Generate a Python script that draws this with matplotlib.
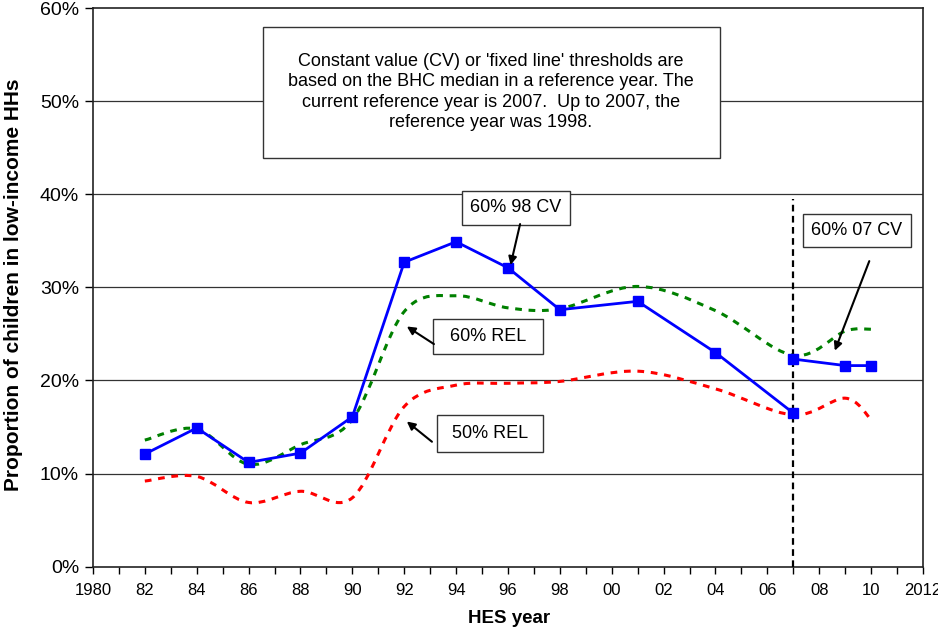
import matplotlib
matplotlib.use("Agg")
import matplotlib.pyplot as plt
from matplotlib.path import Path
from matplotlib.patches import PathPatch, Rectangle
from matplotlib.ticker import FuncFormatter

plt.rcParams['font.family'] = ['Liberation Sans', 'DejaVu Sans']

# data (percent of children)
years = [1982, 1984, 1986, 1988, 1990, 1992, 1994, 1996, 1998, 2001, 2004, 2007, 2009, 2010]
rel60 = [13.6, 14.8, 11.0, 13.1, 15.8, 27.4, 29.1, 27.8, 27.7, 30.1, 27.5, 22.7, 25.3, 25.5]
rel50 = [9.2, 9.7, 6.9, 8.1, 7.4, 17.2, 19.5, 19.7, 19.9, 21.0, 19.1, 16.3, 18.1, 15.8]
cv98_years = [1982, 1984, 1986, 1988, 1990, 1992, 1994, 1996, 1998, 2001, 2004, 2007]
cv98 = [12.1, 14.9, 11.2, 12.2, 16.1, 32.7, 34.9, 32.1, 27.6, 28.5, 23.0, 16.5]
cv07_years = [2007, 2009, 2010]
cv07 = [22.3, 21.6, 21.6]
ref_year = 2007
ref_line_top = 39.5

xticks = list(range(1980, 2013))
xlabels = ['1980', '82', '84', '86', '88', '90', '92', '94', '96', '98',
           '00', '02', '04', '06', '08', '10', '2012']


def smooth_path(xs, ys):
    # excel-style smoothed line: cubic bezier through each point
    pts = list(zip(xs, ys))
    verts = [pts[0]]
    codes = [Path.MOVETO]
    n = len(pts)
    for i in range(n - 1):
        p0 = pts[i - 1] if i > 0 else pts[i]
        p1 = pts[i]
        p2 = pts[i + 1]
        p3 = pts[i + 2] if i + 2 < n else pts[i + 1]
        c1 = (p1[0] + (p2[0] - p0[0]) / 6, p1[1] + (p2[1] - p0[1]) / 6)
        c2 = (p2[0] - (p3[0] - p1[0]) / 6, p2[1] - (p3[1] - p1[1]) / 6)
        verts += [c1, c2, p2]
        codes += [Path.CURVE4] * 3
    return Path(verts, codes)


fig = plt.figure(figsize=(9.38, 6.32), dpi=100)
ax = fig.add_axes([0.0991, 0.1033, 0.8849, 0.884])

for v in range(10, 60, 10):
    ax.axhline(v, color='#333333', lw=0.9, zorder=1)

ax.add_patch(PathPatch(smooth_path(years, rel60), fill=False, edgecolor='#008000',
                       lw=2.2, linestyle=(0, (2.2, 2.2)), zorder=3))
ax.add_patch(PathPatch(smooth_path(years, rel50), fill=False, edgecolor='#ff0000',
                       lw=2.2, linestyle=(0, (2.2, 2.2)), zorder=3))

ax.plot([ref_year, ref_year], [0, ref_line_top], color='black', lw=1.6,
        linestyle=(0, (3, 2)), zorder=4)

ax.plot(cv98_years, cv98, color='#0000ff', lw=2, marker='s', ms=7.5, zorder=5)
ax.plot(cv07_years, cv07, color='#0000ff', lw=2, marker='s', ms=7.5, zorder=5)

ax.set_xlim(1980, 2012)
ax.set_ylim(0, 60)
ax.set_yticks(range(0, 61, 10))
ax.yaxis.set_major_formatter(FuncFormatter(lambda v, p: '%d%%' % v))
ax.set_xticks(xticks)
ax.set_xticklabels([xlabels[(y - 1980) // 2] if y % 2 == 0 else '' for y in xticks])
ax.tick_params(axis='x', direction='out', length=5, width=1, labelsize=12, pad=7)
ax.tick_params(axis='y', direction='out', length=6, width=1, labelsize=14, pad=4)
for s in ax.spines.values():
    s.set_linewidth(1.2)
    s.set_color('#222222')

ax.set_xlabel('HES year', fontsize=13.5, fontweight='bold')
ax.xaxis.set_label_coords(0.501, -0.078)
ax.set_ylabel('Proportion of children in low-income HHs', fontsize=15, fontweight='bold')
ax.yaxis.set_label_coords(-0.084, 0.504)

# note box
ax.add_patch(Rectangle((0.2048, 0.7315), 0.5506, 0.2345, transform=ax.transAxes,
                       facecolor='white', edgecolor='#333333', lw=1, zorder=6))
ax.text(0.4795, 0.8497,
        "Constant value (CV) or 'fixed line' thresholds are\n"
        "based on the BHC median in a reference year. The\n"
        "current reference year is 2007.  Up to 2007, the\n"
        "reference year was 1998.",
        transform=ax.transAxes, ha='center', va='center', fontsize=13,
        linespacing=1.25, zorder=7)

labels = [
    ('60% 98 CV', (0.4446, 0.6118), 0.1301, 0.0609, (0.5146, 0.6133), (1996.1, 32.4)),
    ('60% REL', (0.4096, 0.3806), 0.1325, 0.0626, (0.4108, 0.3985), (1992.1, 25.8)),
    ('50% REL', (0.4145, 0.2058), 0.1277, 0.0662, (0.4084, 0.2237), (1992.1, 15.6)),
    ('60% 07 CV', (0.8558, 0.5719), 0.1294, 0.0597, (0.9353, 0.5470), (2008.6, 23.2)),
]
for txt, (x0, y0), w, h, (ax0, ay0), tip in labels:
    ax.add_patch(Rectangle((x0, y0), w, h, transform=ax.transAxes, facecolor='white',
                           edgecolor='#333333', lw=1, zorder=6))
    ax.text(x0 + w / 2, y0 + h / 2, txt, transform=ax.transAxes, ha='center',
            va='center', fontsize=13, zorder=7)
    ax.annotate('', xy=tip, xycoords='data', xytext=(ax0, ay0), textcoords='axes fraction',
                arrowprops=dict(arrowstyle='-|>', color='black', lw=1.5,
                                mutation_scale=12, shrinkA=0, shrinkB=0), zorder=7)

fig.savefig('out.png', dpi=100)
